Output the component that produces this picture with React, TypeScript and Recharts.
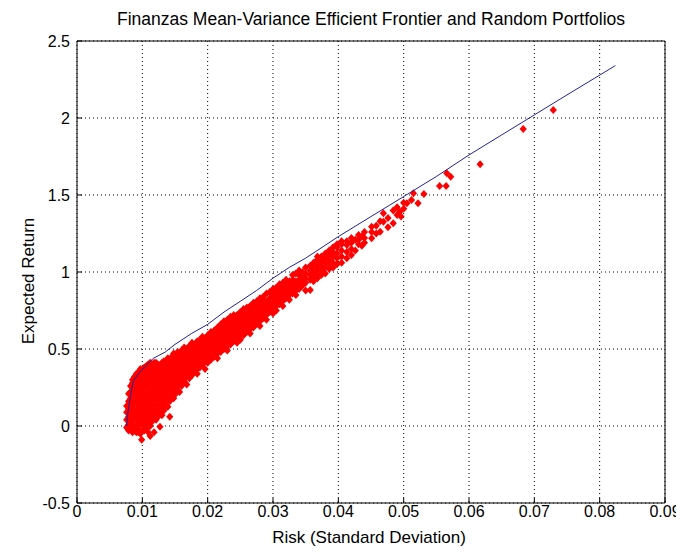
import React from 'react';
import { ScatterChart, Scatter, XAxis, YAxis, CartesianGrid } from 'recharts';

const FONT = '"Liberation Sans", Arial, Helvetica, sans-serif';

const xTicks = [0, 0.01, 0.02, 0.03, 0.04, 0.05, 0.06, 0.07, 0.08, 0.09];
const xTickLabels = ['0', '0.01', '0.02', '0.03', '0.04', '0.05', '0.06', '0.07', '0.08', '0.09'];
const yTicks = [-0.5, 0, 0.5, 1, 1.5, 2, 2.5];
const yTickLabels = ['-0.5', '0', '0.5', '1', '1.5', '2', '2.5'];

const titleText = 'Finanzas Mean-Variance Efficient Frontier and Random Portfolios';
const xLabelText = 'Risk (Standard Deviation)';
const yLabelText = 'Expected Return';

// Efficient frontier (risk, return)
const frontierRisk = [0.0076, 0.0077, 0.0079, 0.0082, 0.0086, 0.0094, 0.0105, 0.0117, 0.0135, 0.015, 0.0175, 0.02, 0.0225, 0.025, 0.0275, 0.03, 0.0325, 0.035, 0.0375, 0.04, 0.045, 0.05, 0.055, 0.06, 0.065, 0.07, 0.075, 0.0824];
const frontierReturn = [0.0, 0.06, 0.12, 0.2, 0.29, 0.34, 0.39, 0.44, 0.48, 0.53, 0.6, 0.66, 0.74, 0.81, 0.88, 0.96, 1.03, 1.09, 1.16, 1.23, 1.36, 1.49, 1.62, 1.76, 1.89, 2.02, 2.15, 2.34];

// Random portfolios: risk value with the returns read at that risk
const portfolioColumns: [number, number[]][] = [
  [0.0076, [-0.01, 0.04, 0.09, 0.13]],
  [0.0079, [-0.03, 0.01, 0.06, 0.11, 0.16, 0.21]],
  [0.0082, [-0.02, 0.0, 0.03, 0.08, 0.13, 0.18, 0.22, 0.26]],
  [0.0085, [-0.04, 0.02, 0.06, 0.1, 0.15, 0.19, 0.24, 0.28, 0.3]],
  [0.0088, [-0.03, -0.01, 0.04, 0.08, 0.12, 0.17, 0.21, 0.25, 0.29, 0.32]],
  [0.0091, [-0.04, 0.0, 0.05, 0.09, 0.14, 0.18, 0.23, 0.27, 0.31, 0.34]],
  [0.0094, [-0.04, -0.02, 0.03, 0.07, 0.11, 0.16, 0.2, 0.24, 0.28, 0.33, 0.35]],
  [0.0097, [-0.05, 0.01, 0.05, 0.1, 0.13, 0.18, 0.22, 0.26, 0.3, 0.34, 0.37]],
  [0.0099, [-0.09]],
  [0.01, [-0.03, 0.02, 0.07, 0.12, 0.15, 0.19, 0.24, 0.28, 0.32, 0.36]],
  [0.0103, [-0.03, 0.0, 0.04, 0.09, 0.14, 0.17, 0.21, 0.26, 0.3, 0.34, 0.38]],
  [0.0106, [-0.02, 0.03, 0.08, 0.11, 0.16, 0.2, 0.25, 0.29, 0.33, 0.37, 0.39]],
  [0.0109, [-0.04, 0.02, 0.06, 0.12, 0.15, 0.19, 0.23, 0.27, 0.31, 0.35, 0.4]],
  [0.0112, [-0.065, 0.0, 0.05, 0.09, 0.14, 0.18, 0.22, 0.26, 0.3, 0.34, 0.38, 0.41]],
  [0.0115, [0.03, 0.07, 0.11, 0.16, 0.2, 0.24, 0.29, 0.33, 0.37, 0.4]],
  [0.0118, [-0.04, 0.05, 0.1, 0.13, 0.18, 0.22, 0.27, 0.31, 0.35, 0.39, 0.41]],
  [0.0121, [0.04, 0.08, 0.12, 0.17, 0.21, 0.25, 0.29, 0.34, 0.38, 0.41]],
  [0.0124, [0.06, 0.11, 0.15, 0.19, 0.23, 0.28, 0.32, 0.36, 0.4]],
  [0.0127, [-0.005, 0.09, 0.14, 0.18, 0.22, 0.26, 0.3, 0.35, 0.39]],
  [0.013, [0.07, 0.12, 0.16, 0.21, 0.25, 0.29, 0.33, 0.37, 0.41]],
  [0.0133, [0.1, 0.15, 0.19, 0.23, 0.27, 0.32, 0.36, 0.4, 0.42]],
  [0.0136, [0.13, 0.18, 0.22, 0.26, 0.3, 0.34, 0.38, 0.42]],
  [0.0139, [0.125, 0.17, 0.21, 0.25, 0.29, 0.33, 0.37, 0.41, 0.44]],
  [0.0142, [0.06, 0.16, 0.2, 0.24, 0.28, 0.32, 0.36, 0.4, 0.43]],
  [0.0145, [0.19, 0.23, 0.27, 0.31, 0.35, 0.39, 0.42, 0.45]],
  [0.0148, [0.18, 0.22, 0.26, 0.3, 0.34, 0.38, 0.41, 0.44, 0.47]],
  [0.0151, [0.21, 0.25, 0.29, 0.33, 0.37, 0.4, 0.43, 0.46]],
  [0.0154, [0.23, 0.28, 0.32, 0.36, 0.39, 0.42, 0.45, 0.48]],
  [0.0157, [0.22, 0.27, 0.31, 0.35, 0.38, 0.41, 0.44, 0.47]],
  [0.016, [0.26, 0.3, 0.34, 0.37, 0.4, 0.43, 0.46, 0.49]],
  [0.0164, [0.29, 0.33, 0.36, 0.39, 0.42, 0.45, 0.48, 0.51]],
  [0.0168, [0.27, 0.32, 0.35, 0.38, 0.41, 0.44, 0.47, 0.5]],
  [0.0172, [0.31, 0.34, 0.37, 0.4, 0.43, 0.46, 0.49, 0.52]],
  [0.0176, [0.33, 0.36, 0.39, 0.42, 0.45, 0.48, 0.51, 0.54]],
  [0.018, [0.35, 0.38, 0.41, 0.44, 0.47, 0.5, 0.53]],
  [0.0184, [0.34, 0.37, 0.4, 0.43, 0.46, 0.49, 0.52, 0.55]],
  [0.0188, [0.38, 0.41, 0.44, 0.47, 0.5, 0.53, 0.56]],
  [0.0192, [0.4, 0.43, 0.46, 0.49, 0.52, 0.55, 0.58]],
  [0.0196, [0.37, 0.42, 0.45, 0.48, 0.51, 0.54, 0.57]],
  [0.02, [0.41, 0.44, 0.47, 0.5, 0.53, 0.56, 0.59]],
  [0.0205, [0.43, 0.46, 0.49, 0.52, 0.55, 0.58, 0.61]],
  [0.021, [0.45, 0.48, 0.51, 0.54, 0.57, 0.6, 0.62]],
  [0.0215, [0.44, 0.47, 0.5, 0.53, 0.56, 0.59, 0.62, 0.64]],
  [0.022, [0.48, 0.51, 0.54, 0.57, 0.6, 0.63, 0.66]],
  [0.0225, [0.5, 0.53, 0.56, 0.59, 0.62, 0.65, 0.68]],
  [0.023, [0.49, 0.52, 0.55, 0.58, 0.61, 0.64, 0.67, 0.69]],
  [0.0235, [0.53, 0.56, 0.59, 0.62, 0.65, 0.68, 0.71]],
  [0.024, [0.55, 0.58, 0.61, 0.64, 0.67, 0.7, 0.72]],
  [0.0245, [0.54, 0.57, 0.6, 0.63, 0.66, 0.69, 0.72]],
  [0.025, [0.56, 0.59, 0.62, 0.65, 0.68, 0.71, 0.74]],
  [0.0255, [0.59, 0.62, 0.65, 0.68, 0.71, 0.74, 0.76]],
  [0.026, [0.61, 0.64, 0.67, 0.7, 0.73, 0.77]],
  [0.0265, [0.6, 0.63, 0.66, 0.69, 0.72, 0.75, 0.78]],
  [0.027, [0.64, 0.67, 0.7, 0.73, 0.76, 0.8]],
  [0.0275, [0.66, 0.69, 0.72, 0.75, 0.78, 0.81]],
  [0.028, [0.65, 0.68, 0.71, 0.74, 0.77, 0.8, 0.83]],
  [0.0285, [0.7, 0.73, 0.76, 0.79, 0.82, 0.84]],
  [0.029, [0.69, 0.72, 0.75, 0.78, 0.81, 0.86]],
  [0.0295, [0.74, 0.77, 0.8, 0.83, 0.87]],
  [0.03, [0.73, 0.76, 0.79, 0.82, 0.85, 0.89]],
  [0.0305, [0.75, 0.78, 0.81, 0.84, 0.87, 0.9]],
  [0.031, [0.79, 0.82, 0.85, 0.88, 0.92]],
  [0.0315, [0.78, 0.81, 0.84, 0.87, 0.9, 0.93]],
  [0.032, [0.83, 0.86, 0.89, 0.92, 0.95]],
  [0.0325, [0.82, 0.85, 0.88, 0.91, 0.94]],
  [0.033, [0.86, 0.89, 0.92, 0.95, 0.98]],
  [0.0335, [0.85, 0.88, 0.91, 0.94, 0.99]],
  [0.034, [0.89, 0.92, 0.95, 0.98, 1.01]],
  [0.0345, [0.91, 0.94, 0.97, 1.0]],
  [0.035, [0.88, 0.93, 0.96, 0.99, 1.03]],
  [0.0357, [0.883, 0.95, 0.98, 1.01, 1.04]],
  [0.0362, [0.94, 0.97, 1.0, 1.03, 1.06]],
  [0.0368, [0.96, 0.99, 1.02, 1.05, 1.08, 1.1]],
  [0.0374, [0.98, 1.01, 1.04, 1.07, 1.1]],
  [0.038, [0.99, 1.03, 1.06, 1.09, 1.12]],
  [0.0386, [1.02, 1.05, 1.08, 1.11, 1.14]],
  [0.0392, [1.03, 1.06, 1.1, 1.13, 1.16]],
  [0.0398, [1.05, 1.09, 1.12, 1.16, 1.18]],
  [0.0405, [1.06, 1.1, 1.14, 1.18, 1.2]],
  [0.0413, [1.09, 1.13, 1.175, 1.2]],
  [0.042, [1.11, 1.15, 1.19, 1.22]],
  [0.0426, [1.14, 1.21]],
  [0.0431, [1.18, 1.21, 1.24]],
  [0.0436, [1.17, 1.23]],
  [0.044, [1.19, 1.22, 1.26]],
  [0.0451, [1.219, 1.26, 1.294]],
  [0.0458, [1.25, 1.3]],
  [0.0464, [1.262, 1.33]],
  [0.0469, [1.327, 1.381]],
  [0.0476, [1.29, 1.35]],
  [0.0484, [1.316, 1.4]],
  [0.049, [1.37, 1.42]],
  [0.0494, [1.392]],
  [0.0496, [1.36]],
  [0.05, [1.41, 1.45]],
  [0.0505, [1.446]],
  [0.0512, [1.468]],
  [0.0515, [1.511]],
  [0.0522, [1.446]],
  [0.0531, [1.506]],
  [0.0555, [1.558]],
  [0.0565, [1.558]],
  [0.0566, [1.641]],
  [0.0572, [1.619]],
  [0.0617, [1.699]],
  [0.0683, [1.929]],
  [0.0729, [2.052]],
];

const frontierData = frontierRisk.map((risk, i) => ({ risk, ret: frontierReturn[i] }));
const portfolioData = portfolioColumns.flatMap(([risk, rets]) => rets.map((ret) => ({ risk, ret })));

const Diamond = (props: any) => {
  const { cx, cy } = props;
  if (cx == null || cy == null) return <g />;
  return (
    <polygon
      points={`${cx},${cy - 4} ${cx + 3.6},${cy} ${cx},${cy + 4} ${cx - 3.6},${cy}`}
      fill="#ff0000"
    />
  );
};

const NoShape = () => <g />;

export default function App() {
  const tickStyle = { fill: '#000', fontSize: 16, fontFamily: FONT };
  return (
    <div style={{ position: 'relative', width: 676, height: 545, background: '#fff' }}>
      <ScatterChart width={676} height={545} margin={{ top: 23, right: 9, bottom: 20, left: 29 }}>
        <CartesianGrid stroke="#000" strokeDasharray="1 3" />
        <XAxis
          type="number"
          dataKey="risk"
          domain={[0, 0.09]}
          ticks={xTicks}
          interval={0}
          allowDataOverflow
          tickFormatter={(_v: number, i: number) => xTickLabels[i]}
          height={30}
          tickSize={-5}
          tickMargin={8}
          stroke="#000"
          tick={tickStyle}
        />
        <XAxis
          xAxisId="top"
          orientation="top"
          type="number"
          dataKey="risk"
          domain={[0, 0.09]}
          ticks={xTicks}
          interval={0}
          allowDataOverflow
          height={10}
          tickSize={-5}
          tick={false}
          stroke="#000"
        />
        <YAxis
          type="number"
          dataKey="ret"
          domain={[-0.5, 2.5]}
          ticks={yTicks}
          interval={0}
          allowDataOverflow
          tickFormatter={(_v: number, i: number) => yTickLabels[i]}
          width={40}
          tickSize={-5}
          tickMargin={12}
          stroke="#000"
          tick={tickStyle}
        />
        <YAxis
          yAxisId="right"
          orientation="right"
          type="number"
          dataKey="ret"
          domain={[-0.5, 2.5]}
          ticks={yTicks}
          interval={0}
          allowDataOverflow
          width={10}
          tickSize={-5}
          tick={false}
          stroke="#000"
        />
        <Scatter data={portfolioData} shape={Diamond} isAnimationActive={false} />
        <Scatter
          data={frontierData}
          line={{ stroke: '#22229a', strokeWidth: 1 }}
          shape={NoShape}
          isAnimationActive={false}
        />
      </ScatterChart>
      <svg
        width={676}
        height={545}
        style={{ position: 'absolute', left: 0, top: 0, pointerEvents: 'none' }}
      >
        <text x={363} y={16.5} textAnchor="middle" fontSize={17.5} fontFamily={FONT} fill="#000">
          {titleText}
        </text>
        <text x={361} y={535} textAnchor="middle" fontSize={17} fontFamily={FONT} fill="#000">
          {xLabelText}
        </text>
        <text
          transform="translate(25.5,273) rotate(-90)"
          textAnchor="middle"
          fontSize={17}
          fontFamily={FONT}
          fill="#000"
        >
          {yLabelText}
        </text>
      </svg>
    </div>
  );
}
